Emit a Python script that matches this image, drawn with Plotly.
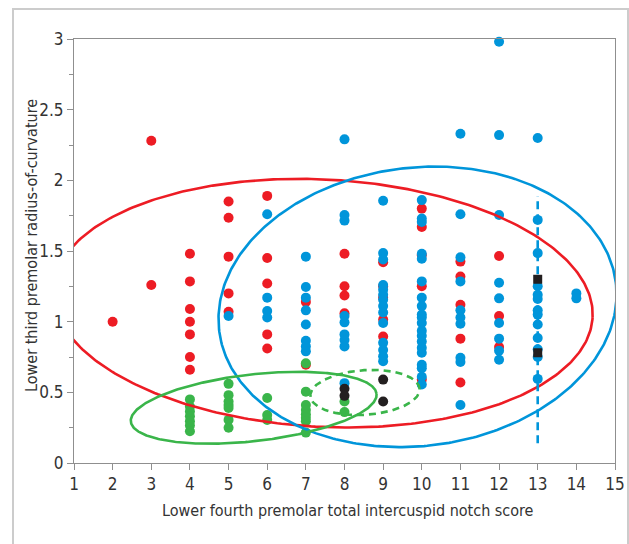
import numpy as np
import plotly.graph_objects as go

# ---------------- data ----------------
red_x = [2,
         3, 3,
         4, 4, 4, 4, 4, 4, 4,
         5, 5, 5, 5, 5,
         6, 6, 6, 6, 6,
         7, 7,
         8, 8, 8, 8,
         9, 9, 9, 9, 9,
         10, 10, 10, 10, 10,
         11, 11, 11, 11, 11,
         12, 12, 12]
red_y = [1.00,
         2.28, 1.26,
         1.48, 1.285, 1.09, 1.00, 0.91, 0.75, 0.66,
         1.85, 1.735, 1.46, 1.20, 1.07,
         1.89, 1.45, 1.27, 0.91, 0.81,
         1.14, 0.695,
         1.48, 1.25, 1.185, 1.06,
         1.42, 1.25, 1.17, 1.015, 0.895,
         1.80, 1.67, 1.47, 1.25, 0.59,
         1.425, 1.32, 1.12, 0.88, 0.57,
         1.465, 1.04, 0.82]

blue_x = [5,
          6, 6, 6, 6,
          7, 7, 7, 7, 7, 7, 7, 7,
          8, 8, 8, 8, 8, 8, 8, 8, 8,
          9, 9, 9, 9, 9, 9, 9, 9, 9, 9, 9, 9, 9, 9,
          10, 10, 10, 10, 10, 10, 10, 10, 10, 10, 10, 10, 10, 10, 10, 10, 10, 10, 10, 10,
          11, 11, 11, 11, 11, 11, 11, 11, 11, 11,
          12, 12, 12, 12, 12, 12, 12, 12, 12,
          13, 13, 13, 13, 13, 13, 13, 13, 13, 13, 13, 13, 13,
          14, 14]
blue_y = [1.04,
          1.76, 1.17, 1.075, 1.03,
          1.46, 1.245, 1.17, 1.08, 0.98, 0.865, 0.825, 0.79,
          2.29, 1.755, 1.715, 1.04, 0.995, 0.91, 0.87, 0.825, 0.565,
          1.855, 1.485, 1.44, 1.26, 1.225, 1.19, 1.155, 1.11, 1.065, 0.99, 0.85, 0.80, 0.755, 0.72,
          1.86, 1.73, 1.705, 1.48, 1.445, 1.285, 1.17, 1.11, 1.05, 1.03, 0.99, 0.935, 0.90,
          0.86, 0.815, 0.78, 0.695, 0.67, 0.61, 0.555,
          2.33, 1.76, 1.455, 1.285, 1.08, 1.03, 0.985, 0.745, 0.715, 0.41,
          2.98, 2.32, 1.755, 1.275, 1.165, 0.99, 0.88, 0.795, 0.73,
          2.30, 1.72, 1.485, 1.25, 1.19, 1.16, 1.08, 1.05, 0.98, 0.885, 0.805, 0.75, 0.595,
          1.20, 1.165]

green_x = [4, 4, 4, 4, 4, 4, 4,
           5, 5, 5, 5, 5, 5, 5,
           6, 6, 6,
           7, 7, 7, 7, 7, 7, 7, 7,
           8, 8]
green_y = [0.45, 0.40, 0.365, 0.33, 0.295, 0.265, 0.225,
           0.56, 0.48, 0.435, 0.41, 0.39, 0.305, 0.25,
           0.46, 0.34, 0.305,
           0.705, 0.505, 0.41, 0.375, 0.345, 0.32, 0.295, 0.215,
           0.435, 0.36]

black_x = [8, 8, 9, 9]
black_y = [0.525, 0.475, 0.59, 0.435]

square_x = [13, 13]
square_y = [1.30, 0.78]

# ellipses: centre (data), semi-axes (x units, y units), screen tilt (deg)
ell_cx = [7.44, 9.89, 5.65, 8.53]
ell_cy = [1.131, 1.105, 0.391, 0.499]
ell_a = [6.99, 5.17, 3.20, 1.417]
ell_b = [0.875, 0.985, 0.236, 0.158]
ell_ang = [-3.0, 6.9, 6.5, 3.8]

vline_x = [13, 13]
vline_y = [0.14, 1.89]

x_ticks = list(range(1, 16))
y_ticks = [0, 0.5, 1, 1.5, 2, 2.5, 3]
y_tick_text = ["0", "0.5", "1", "1.5", "2", "2.5", "3"]

x_title = "Lower fourth premolar total intercuspid notch score"
y_title = "Lower third premolar radius-of-curvature"

# ---------------- layout constants ----------------
W, H = 629, 544
ML, MR, MT, MB = 74, 14, 39, 81
PW, PH = W - ML - MR, H - MT - MB
SX = PW / (x_ticks[-1] - x_ticks[0])
SY = PH / (y_ticks[-1] - y_ticks[0])

RED = "#ED1C24"
BLUE = "#0095DA"
GREEN = "#3AB54A"
BLACK = "#231F20"
AXIS = "#8f8f8f"
FONT = "DejaVu Sans Condensed, Liberation Sans Narrow, Arial Narrow, sans-serif"


def ellipse(cx, cy, a, b, ang):
    t = np.linspace(0, 2 * np.pi, 400)
    A, B = a * SX, b * SY
    p = np.deg2rad(ang)
    u = A * np.cos(t) * np.cos(p) - B * np.sin(t) * np.sin(p)
    v = A * np.cos(t) * np.sin(p) + B * np.sin(t) * np.cos(p)
    return cx + u / SX, cy + v / SY


fig = go.Figure()

def pts(x, y, color, symbol="circle", size=10):
    fig.add_trace(go.Scatter(x=x, y=y, mode="markers", cliponaxis=False,
                             marker=dict(color=color, size=size, symbol=symbol,
                                         line=dict(width=0)),
                             showlegend=False, hoverinfo="skip"))

pts(red_x, red_y, RED)
pts(blue_x, blue_y, BLUE)
pts(green_x, green_y, GREEN)
pts(black_x, black_y, BLACK)

ell_colors = [RED, BLUE, GREEN, GREEN]
ell_dash = ["solid", "solid", "solid", "7px,5px"]
for i in range(4):
    ex, ey = ellipse(ell_cx[i], ell_cy[i], ell_a[i], ell_b[i], ell_ang[i])
    fig.add_trace(go.Scatter(x=ex, y=ey, mode="lines",
                             line=dict(color=ell_colors[i], width=2.6, dash=ell_dash[i]),
                             showlegend=False, hoverinfo="skip"))

fig.add_trace(go.Scatter(x=vline_x, y=vline_y, mode="lines",
                         line=dict(color=BLUE, width=2.6, dash="8px,5px"),
                         showlegend=False, hoverinfo="skip"))
pts(square_x, square_y, BLACK, symbol="square", size=9)

# outer light frame
fig.add_shape(type="rect", xref="paper", yref="paper",
              x0=(13 - ML) / PW, x1=(628 - ML) / PW,
              y0=(H - MB - 570) / PH, y1=(H - MB - 9) / PH,
              line=dict(color="#cccccc", width=2), layer="below")

# axis titles as annotations (pixel-placed)
fig.add_annotation(text=x_title, xref="paper", yref="paper",
                   x=(348 - ML) / PW, y=(H - MB - 510) / PH,
                   showarrow=False, xanchor="center", yanchor="middle",
                   font=dict(size=16, color="#333333"))
fig.add_annotation(text=y_title, xref="paper", yref="paper",
                   x=(31 - ML) / PW, y=(H - MB - 246) / PH, textangle=-90,
                   showarrow=False, xanchor="center", yanchor="middle",
                   font=dict(size=16, color="#333333"))

fig.update_layout(
    width=W, height=H,
    margin=dict(l=ML, r=MR, t=MT, b=MB, autoexpand=False),
    paper_bgcolor="white", plot_bgcolor="white",
    font=dict(family=FONT, size=17, color="#333333"),
    showlegend=False,
)
fig.update_xaxes(range=[x_ticks[0], x_ticks[-1]], tickvals=x_ticks,
                 showline=True, linecolor=AXIS, linewidth=1, mirror=True,
                 ticks="outside", ticklen=6, tickcolor=AXIS,
                 showgrid=False, zeroline=False, automargin=False)
fig.update_yaxes(range=[y_ticks[0], y_ticks[-1]], tickvals=y_ticks, ticktext=y_tick_text,
                 showline=True, linecolor=AXIS, linewidth=1, mirror=True,
                 ticks="outside", ticklen=6, tickcolor=AXIS,
                 minor=dict(dtick=0.25, ticks="outside", ticklen=4, tickcolor=AXIS),
                 showgrid=False, zeroline=False, automargin=False)

fig.write_html("out.html",
               config={"displayModeBar": False},
               post_script="document.body.style.margin='0px';"
                           "document.body.style.overflow='hidden';")
